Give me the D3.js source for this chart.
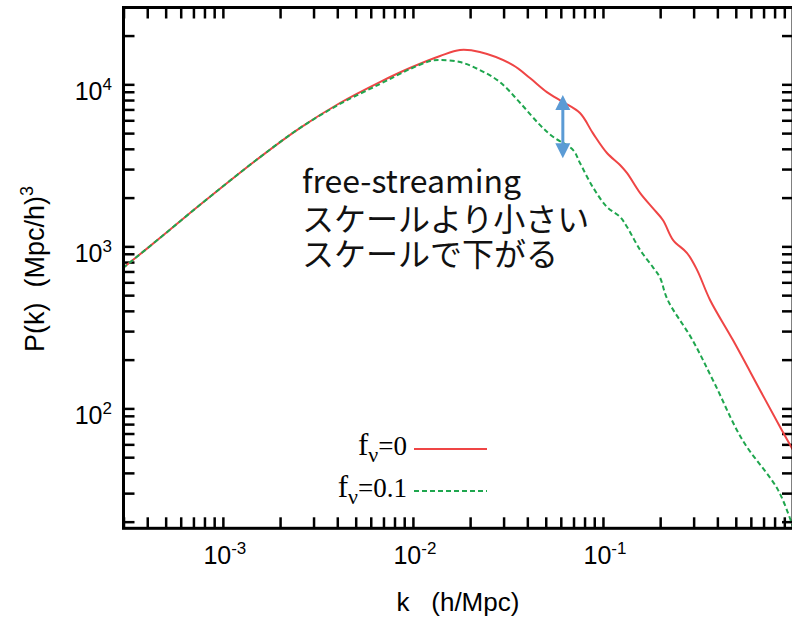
<!DOCTYPE html>
<html><head><meta charset="utf-8">
<script src="https://cdn.jsdelivr.net/npm/d3@7"></script>
<style>
html,body{margin:0;padding:0;background:#fff;overflow:hidden}
svg{display:block}
text{white-space:pre}
</style></head><body>
<svg id="chart" width="792" height="617"></svg>
<script>
// ---- data ----
const kNu0 = [2.98e-4,4.66e-4,7.56e-4,1.57e-3,2.54e-3,4.13e-3,6.70e-3,9.64e-3,1.39e-2,1.77e-2,2.25e-2,3.36e-2,4.13e-2,5.07e-2,6.15e-2,7.57e-2,8.85e-2,0.105,0.123,0.134,0.157,0.183,0.207,0.234,0.277,0.313,0.366,0.483,0.670,0.855,1.0];
const pNu0 = [735,1125,1800,3556,5370,7670,10330,12610,14960,16300,15830,13150,10930,8960,7780,6650,5000,3770,3180,2830,2130,1720,1450,1093,910,714,467,264,130,76.7,55.3];
const kNu01 = [2.98e-4,4.66e-4,7.56e-4,1.57e-3,2.54e-3,4.13e-3,6.70e-3,9.64e-3,1.23e-2,1.39e-2,1.77e-2,2.25e-2,2.87e-2,3.67e-2,4.67e-2,5.48e-2,6.97e-2,7.57e-2,8.85e-2,0.105,0.123,0.134,0.157,0.183,0.199,0.219,0.296,0.385,0.542,0.835,1.0];
const pNu01 = [735,1125,1800,3556,5370,7570,10040,12420,13920,14130,13730,12250,10330,7670,5600,4730,3930,3270,2320,1750,1520,1316,949,745,647,467,264,144,63.8,31.3,18.5];
const seriesNames = ["0","0.1"];
const xTickExponents = ["-3","-2","-1"];
const xTickValues = [1e-3,1e-2,1e-1];
const yTickExponents = ["2","3","4"];
const yTickValues = [1e2,1e3,1e4];
const noteLines = ["free-streaming","スケールより小さい","スケールで下がる"];
const arrowK = 0.0615;
const arrowP = [8600,3500];

// ---- layout ----
const svg = d3.select("#chart");
const L = 123.5, R = 793, T = 7.5, B = 528.3;
const x = d3.scaleLog().domain([3e-4,1]).range([L,R]);
const y = d3.scaleLog().domain([18.2,29800]).range([B,T]);
const red = "#ef4545", green = "#1fa64e", blue = "#5b9bd5";

svg.append("defs").append("clipPath").attr("id","plotclip")
  .append("rect").attr("x",L).attr("y",T).attr("width",R-L).attr("height",B-T);

// minor/major tick positions
const xt = [], yt = [];
for (let e=-4;e<=0;e++) for (let m=1;m<=9;m++){const v=m*Math.pow(10,e); if(v>=3e-4*0.999 && v<=1.0001) xt.push(v);}
for (let e=1;e<=4;e++) for (let m=1;m<=9;m++){const v=m*Math.pow(10,e); if(v>=18.2 && v<=29800) yt.push(v);}

function styleAxis(g){
  g.select(".domain").remove();
  g.selectAll(".tick line").attr("stroke","#000").attr("stroke-width",2.5);
}
svg.append("g").attr("transform",`translate(0,${B})`)
  .call(d3.axisBottom(x).tickValues(xt).tickFormat("").tickSizeInner(-11).tickSizeOuter(0)).call(styleAxis);
svg.append("g").attr("transform",`translate(0,${T})`)
  .call(d3.axisTop(x).tickValues(xt).tickFormat("").tickSizeInner(-11).tickSizeOuter(0)).call(styleAxis);
svg.append("g").attr("transform",`translate(${L},0)`)
  .call(d3.axisLeft(y).tickValues(yt).tickFormat("").tickSizeInner(-11).tickSizeOuter(0)).call(styleAxis);
svg.append("g").attr("transform",`translate(${R},0)`)
  .call(d3.axisRight(y).tickValues(yt).tickFormat("").tickSizeInner(-11).tickSizeOuter(0)).call(styleAxis);

// tick labels
const tickFont = "'Liberation Sans', Arial, sans-serif";
xTickValues.forEach((v,i)=>{
  const t = svg.append("text").attr("x",x(v)+2).attr("y",564).attr("text-anchor","middle")
    .attr("font-family",tickFont).attr("font-size",25).attr("fill","#000");
  t.append("tspan").text("10");
  t.append("tspan").attr("font-size",17).attr("dy",-10).text(xTickExponents[i]);
});
yTickValues.forEach((v,i)=>{
  const t = svg.append("text").attr("x",112).attr("y",y(v)+16).attr("text-anchor","end")
    .attr("font-family",tickFont).attr("font-size",25).attr("fill","#000");
  t.append("tspan").text("10");
  t.append("tspan").attr("font-size",17).attr("dy",-10).text(yTickExponents[i]);
});

// axis titles
svg.append("text").attr("x",458).attr("y",611).attr("text-anchor","middle")
  .attr("font-family",tickFont).attr("font-size",26).attr("fill","#000").text("k   (h/Mpc)");
const yl = svg.append("text").attr("transform","translate(44,352) rotate(-90)")
  .attr("font-family",tickFont).attr("font-size",27).attr("fill","#000");
yl.append("tspan").text("P(k)  (Mpc/h)");
yl.append("tspan").attr("font-size",18).attr("dy",-11).text("3");

// curves
const line = d3.line().x(d=>x(d[0])).y(d=>y(d[1])).curve(d3.curveCatmullRom.alpha(0.5));
const gPlot = svg.append("g").attr("clip-path","url(#plotclip)");
gPlot.append("path").datum(kNu0.map((k,i)=>[k,pNu0[i]])).attr("d",line)
  .attr("fill","none").attr("stroke",red).attr("stroke-width",2);
gPlot.append("path").datum(kNu01.map((k,i)=>[k,pNu01[i]])).attr("d",line)
  .attr("fill","none").attr("stroke",green).attr("stroke-width",2).attr("stroke-dasharray","5,3");

// frame
svg.append("rect").attr("x",L).attr("y",T).attr("width",R-L).attr("height",B-T)
  .attr("fill","none").attr("stroke","#000").attr("stroke-width",3);

// legend
const legFont = "'Liberation Serif','Times New Roman',serif";
const legColors = [red, green], legDash = [null, "5,3"];
seriesNames.forEach((s,i)=>{
  const yy = 455 + i*42;
  const t = svg.append("text").attr("x",407).attr("y",yy).attr("text-anchor","end")
    .attr("font-family",legFont).attr("fill","#000");
  t.append("tspan").attr("font-size",31).text("f");
  t.append("tspan").attr("font-size",22).attr("dy",7).text("ν");
  t.append("tspan").attr("font-size",27).attr("dy",-7).text("="+s);
  svg.append("line").attr("x1",414).attr("x2",487).attr("y1",yy-6).attr("y2",yy-6)
    .attr("stroke",legColors[i]).attr("stroke-width",2).attr("stroke-dasharray",legDash[i]);
});

// annotation text
const noteFont = "'Noto Sans CJK JP','Noto Sans',sans-serif";
const noteY = [193,231,266];
noteLines.forEach((s,i)=>{
  svg.append("text").attr("x",302).attr("y",noteY[i]).attr("font-family",noteFont)
    .attr("font-size",32).attr("fill","#111").text(s);
});

// double arrow
const ax = x(arrowK), yTop = y(arrowP[0]), yBot = y(arrowP[1]);
svg.append("line").attr("x1",ax).attr("x2",ax).attr("y1",yTop+12).attr("y2",yBot-12)
  .attr("stroke",blue).attr("stroke-width",3);
svg.append("path").attr("d",`M${ax},${yTop} L${ax-7.5},${yTop+15} L${ax+7.5},${yTop+15} Z`).attr("fill",blue);
svg.append("path").attr("d",`M${ax},${yBot} L${ax-7.5},${yBot-15} L${ax+7.5},${yBot-15} Z`).attr("fill",blue);
</script></body></html>
